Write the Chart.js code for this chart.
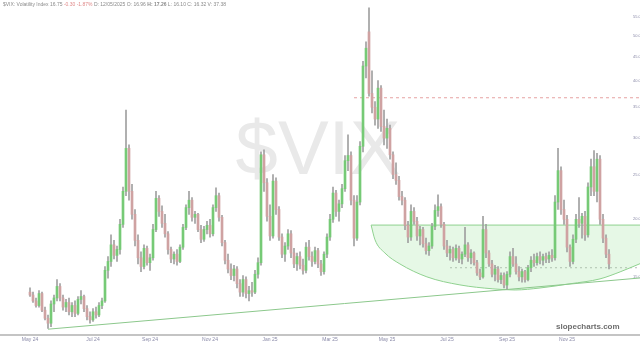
<!DOCTYPE html>
<html>
<head>
<meta charset="utf-8">
<script src="https://cdn.jsdelivr.net/npm/chart.js@4.4.1/dist/chart.umd.min.js"></script>
<style>
  html, body { margin: 0; padding: 0; background: #fff; }
  #wrap { position: relative; width: 640px; height: 343px; overflow: hidden; font-family: "Liberation Sans", Arial, sans-serif; }
  #mark { position: absolute; left: 0; width: 636px; top: 104px; text-align: center; font-size: 76px; color: #e9e9e9; }
  #head { position: absolute; left: 3px; top: 1px; font-size: 5px; color: #8a8a8a; white-space: nowrap; }
  #head .chg { color: #e08a8a; }
  #brand { position: absolute; left: 556px; top: 322px; font-size: 8px; font-weight: bold; color: #6e6e6e; }
  canvas { position: absolute; left: 0; top: 0; }
</style>
</head>
<body>
<div id="wrap">
  <div id="mark">$VIX</div>
  <canvas id="chart" width="640" height="343"></canvas>
  <div id="head">$VIX: Volatility Index 16.75 <span class="chg">-0.30 -1.87%</span> D: 12/05/2025 O: 16.96 <b>H: 17.26</b> L: 16.10 C: 16.32 V: 37.38</div>
  <div id="brand">slopecharts.com</div>
</div>
<script>
// ── Data (roughly 2 sessions per candle) ───────────────────────────────────
const opens = [
  13.9,13.7,13.3,13.0,13.8,12.7,12.2,11.9,13.1,13.5, 14.3,13.5,12.9,13.2,12.6,13.0,12.5,13.4,13.6,12.8,
  12.3,12.1,12.6,12.4,13.0,13.3,15.5,16.2,17.6,16.7, 17.2,19.5,23.0,28.5,23.0,20.5,18.0,16.5,15.8,17.3,
  16.1,16.5,19.0,22.2,20.8,19.6,18.6,17.2,16.4,16.8, 16.2,17.4,19.2,21.2,22.0,20.2,20.5,19.0,18.1,19.0,
  19.4,18.6,21.2,22.5,20.2,17.8,16.3,15.6,15.1,15.6, 14.5,13.9,14.8,13.8,14.0,13.9,15.2,16.1,27.6,24.0,
  20.3,18.4,24.2,21.0,18.3,16.8,17.5,18.6,16.9,16.0, 16.6,15.9,15.5,17.4,16.6,16.2,17.1,16.0,15.4,16.8,
  18.3,20.0,22.8,20.8,21.6,23.3,26.8,27.5,22.0,18.2, 21.8,28.8,43.0,51.0,37.5,35.0,33.0,38.5,31.8,30.0,
  31.5,27.6,25.0,24.3,22.4,22.0,19.4,18.3,20.8,19.8, 18.4,19.0,17.7,17.1,17.5,19.3,20.9,21.3,19.5,17.5,
  16.9,17.2,16.5,17.3,16.4,16.8,17.6,16.5,16.9,16.1, 15.3,15.0,19.0,16.9,16.0,15.2,15.6,14.8,15.1,14.4,
  15.2,16.6,16.0,15.4,15.0,15.4,14.8,15.7,16.3,16.1, 16.6,16.3,16.6,16.4,16.7,16.5,21.8,25.5,21.0,20.0,
  17.4,16.2,18.1,20.0,19.6,20.3,18.5,23.5,26.0,23.0, 27.0,20.0,18.2,16.8
];
const highs = [
  14.2,13.9,13.5,14.0,13.9,12.9,12.4,13.3,13.7,14.8, 14.5,13.7,13.4,13.5,13.2,13.3,13.6,14.0,13.7,13.0,
  12.6,12.8,12.9,13.2,13.5,15.8,16.6,18.5,18.0,17.5, 20.0,23.5,34.5,29.0,23.8,21.0,18.5,17.0,17.6,17.5,
  16.8,19.5,23.0,22.5,21.4,20.5,18.8,17.4,17.0,17.2, 17.6,19.5,21.5,23.0,22.3,20.8,20.6,19.4,19.3,19.8,
  20.0,21.5,23.4,22.8,20.4,18.0,16.8,16.0,15.9,15.8, 14.8,15.1,15.0,14.3,14.6,15.5,16.5,28.0,28.3,24.5,
  21.5,25.0,24.6,21.3,18.6,17.8,19.0,18.9,17.3,16.9, 17.0,16.4,17.8,18.0,17.0,17.4,17.3,16.3,17.0,18.6,
  20.5,23.5,23.1,22.0,23.8,27.5,30.5,28.0,22.5,22.5, 29.5,44.0,48.5,57.5,42.0,36.0,40.0,39.0,34.5,33.0,
  32.0,28.0,26.5,24.8,23.0,22.3,19.8,21.5,21.2,20.2, 19.3,19.2,18.2,17.8,19.6,21.5,22.6,21.6,19.7,18.0,
  17.5,17.4,17.6,17.5,17.0,19.2,17.8,17.2,17.0,16.3, 15.6,20.3,19.5,17.1,16.3,15.9,15.8,15.3,15.3,15.4,
  17.0,17.3,16.6,15.8,15.6,15.5,15.9,16.6,16.8,16.9, 17.0,16.8,16.9,17.0,17.2,22.5,28.5,26.0,22.0,20.4,
  17.6,18.5,20.5,22.3,20.6,20.8,24.0,27.0,28.2,27.8, 27.5,20.5,18.5,17.2
];
const lows = [
  13.6,13.2,12.9,12.9,12.6,12.1,11.6,11.7,12.6,13.3, 13.3,12.7,12.6,12.4,12.3,12.3,12.4,13.1,12.6,12.1,
  11.9,12.0,12.2,12.3,12.8,13.2,14.9,15.8,16.4,16.2, 16.8,19.2,22.5,22.0,20.0,17.5,16.0,15.4,15.6,15.9,
  15.5,16.3,18.8,20.3,19.2,18.3,16.8,16.1,16.0,15.9, 16.1,17.2,19.0,20.5,19.8,19.6,18.8,17.8,17.9,18.6,
  18.3,18.4,20.8,19.8,17.5,16.0,15.3,14.8,14.7,14.2, 13.6,13.6,13.5,13.3,13.6,13.8,14.9,15.9,23.0,19.8,
  18.0,18.2,20.5,18.0,16.5,16.2,17.2,16.5,15.7,15.5, 15.6,15.2,15.3,16.3,15.8,16.0,15.7,15.1,15.2,16.5,
  18.0,19.7,20.3,19.8,21.2,23.0,25.5,21.5,17.5,18.0, 21.5,28.0,40.5,37.0,34.0,32.0,31.5,31.0,29.0,28.5,
  27.0,24.5,23.8,22.0,21.5,19.0,17.8,18.0,19.5,18.0, 17.6,17.4,16.8,16.7,17.3,19.0,20.3,19.2,17.2,16.6,
  16.3,16.2,16.3,16.1,16.0,16.6,16.2,16.0,15.9,15.1, 14.8,14.9,16.5,15.8,15.0,14.7,14.6,14.5,14.2,14.1,
  15.0,15.8,15.2,14.7,14.6,14.6,14.7,15.4,15.8,15.9, 16.0,15.9,16.1,16.1,16.2,16.3,21.0,20.5,19.5,17.0,
  15.8,16.0,17.8,19.2,18.2,18.0,18.3,22.5,22.5,21.8, 19.5,17.8,16.5,15.6
];
const closes = [
  13.7,13.3,13.0,13.8,12.7,12.2,11.9,13.1,13.5,14.3, 13.5,12.9,13.2,12.6,13.0,12.5,13.4,13.6,12.8,12.3,
  12.1,12.6,12.4,13.0,13.3,15.5,16.2,17.6,16.7,17.2, 19.5,23.0,28.5,23.0,20.5,18.0,16.5,15.8,17.3,16.1,
  16.5,19.0,22.2,20.8,19.6,18.6,17.2,16.4,16.8,16.2, 17.4,19.2,21.2,22.0,20.2,20.5,19.0,18.1,19.0,19.4,
  18.6,21.2,22.5,20.2,17.8,16.3,15.6,15.1,15.6,14.5, 13.9,14.8,13.8,14.0,13.9,15.2,16.1,27.6,24.0,20.3,
  18.4,24.2,21.0,18.3,16.8,17.5,18.6,16.9,16.0,16.6, 15.9,15.5,17.4,16.6,16.2,17.1,16.0,15.4,16.8,18.3,
  20.0,22.8,20.8,21.6,23.3,26.8,27.5,22.0,18.2,21.8, 28.8,43.0,47.0,37.5,35.0,33.0,38.5,31.8,30.0,31.5,
  27.6,25.0,24.3,22.4,22.0,19.4,18.3,20.8,19.8,18.4, 19.0,17.7,17.1,17.5,19.3,20.9,21.3,19.5,17.5,16.9,
  17.2,16.5,17.3,16.4,16.8,17.6,16.5,16.9,16.1,15.3, 15.0,19.0,16.9,16.0,15.2,15.6,14.8,15.1,14.4,15.2,
  16.6,16.0,15.4,15.0,15.4,14.8,15.7,16.3,16.1,16.6, 16.3,16.6,16.4,16.7,16.5,21.8,25.5,21.0,20.0,17.4,
  16.2,18.1,20.0,19.6,20.3,18.5,23.5,26.0,23.0,27.0, 20.0,18.2,16.8,16.0
];

// x-axis month labels and the candle each one sits on
const xTickLabels = ["May 24", "Jul 24", "Sep 24", "Nov 24", "Jan 25", "Mar 25", "May 25", "Jul 25", "Sep 25", "Nov 25"];
const xTickAt     = [0, 21, 40, 60, 80, 100, 119, 139, 159, 179];

// right-hand price ticks
const yTicks = [15, 20, 25, 30, 35, 40, 45, 50, 55];

// drawn annotations (candle index / price)
const trendX = [6, 204];
const trendY = [11.55, 14.93];
const bowlTop = 19.43;
const bowlX = [113.7, 115, 118.3, 123.3, 132.3, 143.3, 154.3, 161.7, 170, 180, 190, 196.7, 204];
const bowlY = [19.43, 18.05, 16.9, 16.0, 15.0, 14.41, 14.13, 14.05, 14.19, 14.49, 14.85, 15.38, 16.09];
const redLevel = 36.7, redFrom = 108;
const grayLevel = 15.7, grayFrom = 140;

// ── Build ──────────────────────────────────────────────────────────────────
const UP = "#76ca76", DOWN = "#cfa2a2", WICK = "#a0a0a0";
const isUp = i => closes[i] >= opens[i];

const wicks  = closes.map((c, i) => ({ x: i, y: [lows[i], highs[i]] }));
const bodies = closes.map((c, i) => ({ x: i, y: [opens[i], closes[i]] }));
const seg = (xs, ys) => xs.map((x, i) => ({ x, y: ys[i] }));

// keep the plot edge to edge: no label padding eating into the area
const noPad = s => { s.paddingLeft = s.paddingRight = s.paddingTop = s.paddingBottom = 0; };

new Chart(document.getElementById("chart"), {
  type: "bar",
  data: {
    datasets: [
      {
        data: bodies, grouped: false, barThickness: 2, minBarLength: 1,
        backgroundColor: ctx => isUp(ctx.dataIndex) ? UP : DOWN,
        borderWidth: 0,
      },
      {
        data: wicks, grouped: false, barThickness: 1,
        backgroundColor: WICK, borderWidth: 0,
      },
      {
        type: "line", data: seg(trendX, trendY),
        borderColor: "#8cc88c", borderWidth: 1, pointRadius: 0, fill: false,
      },
      {
        type: "line", data: seg([bowlX[0], 204], [bowlTop, bowlTop]),
        borderColor: "#8fd18f", borderWidth: 1, pointRadius: 0, fill: false,
      },
      {
        type: "line", data: seg(bowlX, bowlY),
        borderColor: "#8fd18f", borderWidth: 1, pointRadius: 0,
        cubicInterpolationMode: "monotone",
        fill: { value: bowlTop }, backgroundColor: "rgba(150,225,150,0.24)",
      },
      {
        type: "line", data: seg([redFrom, 204], [redLevel, redLevel]),
        borderColor: "#e6a3a3", borderWidth: 1, borderDash: [3, 3], pointRadius: 0, fill: false,
      },
      {
        type: "line", data: seg([grayFrom, 204], [grayLevel, grayLevel]),
        borderColor: "#b8b8b8", borderWidth: 1, borderDash: [2, 3], pointRadius: 0, fill: false,
      },
    ],
  },
  options: {
    responsive: false,
    animation: false,
    layout: { padding: 0 },
    plugins: { legend: { display: false }, tooltip: { enabled: false } },
    scales: {
      x: {
        type: "linear", min: -10, max: 203.33, bounds: "data", offset: false,
        grid: { display: false, drawTicks: false },
        border: { display: true, color: "#c4c4c4", width: 2 },
        afterBuildTicks: s => { s.ticks = xTickAt.map(v => ({ value: v })); },
        afterFit: s => { noPad(s); s.height = 8; },
        ticks: {
          autoSkip: false, maxRotation: 0, padding: 2,
          font: { size: 5, family: "Liberation Sans" }, color: "#8a8aa8",
          callback: (v, i) => xTickLabels[i],
        },
      },
      y: {
        type: "logarithmic", position: "right", min: 11.22, max: 59.8, bounds: "data",
        grid: { display: false, drawTicks: false },
        border: { display: false },
        afterBuildTicks: s => { s.ticks = yTicks.map(v => ({ value: v })); },
        afterFit: s => { noPad(s); s.width = 0; },
        ticks: {
          mirror: true, padding: 3,
          font: { size: 4, family: "Liberation Sans" }, color: "#8a8aa8",
          callback: v => v.toFixed(2),
        },
      },
    },
  },
});
</script>
</body>
</html>
